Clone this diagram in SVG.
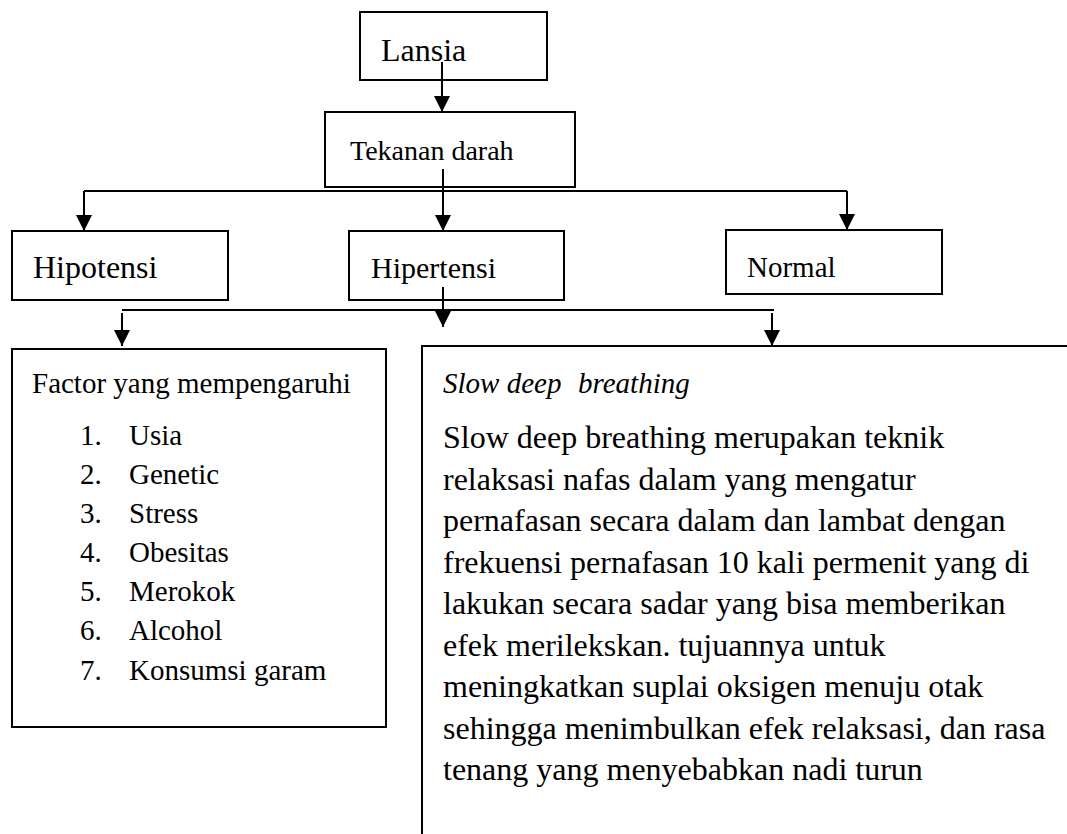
<svg xmlns="http://www.w3.org/2000/svg" width="1067" height="834" viewBox="0 0 1067 834">
<style>
.box{fill:#fff;stroke:#000;stroke-width:2}
.t{font-family:"Liberation Serif","Times New Roman",serif;fill:#000}
.ln{fill:none;stroke:#000;stroke-width:2}
</style>
<defs>
<marker id="ah" viewBox="0 0 16 16" refX="16" refY="8" markerWidth="16" markerHeight="16" markerUnits="userSpaceOnUse" orient="auto">
<path d="M0,0 L16,8 L0,16 z" fill="#000"/>
</marker>
</defs>
<rect width="1067" height="834" fill="#fff"/>
<g id="lansia"><rect class="box" x="360" y="12" width="187" height="68"/><text class="t" x="381" y="61" font-size="32">Lansia</text></g>
<g id="tekanan"><rect class="box" x="325" y="112" width="250" height="75"/><text class="t" x="350" y="160" font-size="28">Tekanan darah</text></g>
<g id="hipotensi"><rect class="box" x="12" y="231" width="216" height="69"/><text class="t" x="33" y="278" font-size="32">Hipotensi</text></g>
<g id="hipertensi"><rect class="box" x="349" y="231" width="215" height="69"/><text class="t" x="371" y="278" font-size="30">Hipertensi</text></g>
<g id="normal"><rect class="box" x="726" y="230" width="216" height="64"/><text class="t" x="747" y="277" font-size="29">Normal</text></g>
<g id="factor"><rect class="box" x="12" y="349" width="374" height="378"/>
<text class="t" x="32" y="393" font-size="29">Factor yang mempengaruhi</text>
<g font-size="29">
<text class="t" x="80" y="445">1.</text><text class="t" x="129" y="445">Usia</text>
<text class="t" x="80" y="484">2.</text><text class="t" x="129" y="484">Genetic</text>
<text class="t" x="80" y="523">3.</text><text class="t" x="129" y="523">Stress</text>
<text class="t" x="80" y="562">4.</text><text class="t" x="129" y="562">Obesitas</text>
<text class="t" x="80" y="601">5.</text><text class="t" x="129" y="601">Merokok</text>
<text class="t" x="80" y="640">6.</text><text class="t" x="129" y="640">Alcohol</text>
<text class="t" x="80" y="680">7.</text><text class="t" x="129" y="680">Konsumsi garam</text>
</g></g>
<g id="sdb"><rect class="box" x="422" y="346" width="700" height="600"/>
<text class="t" y="393" font-size="29" font-style="italic"><tspan x="443">Slow deep</tspan><tspan x="578">breathing</tspan></text>
<g font-size="32">
<text class="t" x="443" y="448">Slow deep breathing merupakan teknik</text>
<text class="t" x="443" y="490">relaksasi nafas dalam yang mengatur</text>
<text class="t" x="443" y="531">pernafasan secara dalam dan lambat dengan</text>
<text class="t" x="443" y="573">frekuensi pernafasan 10 kali permenit yang di</text>
<text class="t" x="443" y="614">lakukan secara sadar yang bisa memberikan</text>
<text class="t" x="443" y="656">efek merilekskan. tujuannya untuk</text>
<text class="t" x="443" y="697">meningkatkan suplai oksigen menuju otak</text>
<text class="t" x="443" y="739">sehingga menimbulkan efek relaksasi, dan rasa</text>
<text class="t" x="443" y="780">tenang yang menyebabkan nadi turun</text>
</g></g>
<g id="connectors">
<path class="ln" d="M442,62 V112" marker-end="url(#ah)"/>
<path class="ln" d="M443,169 V231" marker-end="url(#ah)"/>
<path class="ln" d="M84,191 H847"/>
<path class="ln" d="M84,191 V231" marker-end="url(#ah)"/>
<path class="ln" d="M847,191 V230" marker-end="url(#ah)"/>
<path class="ln" d="M443,287 V327" marker-end="url(#ah)"/>
<path class="ln" d="M122,310 H774" stroke-width="2.5"/>
<path class="ln" d="M122,313 V346" marker-end="url(#ah)"/>
<path class="ln" d="M772,313 V346" marker-end="url(#ah)"/>
</g>
</svg>
